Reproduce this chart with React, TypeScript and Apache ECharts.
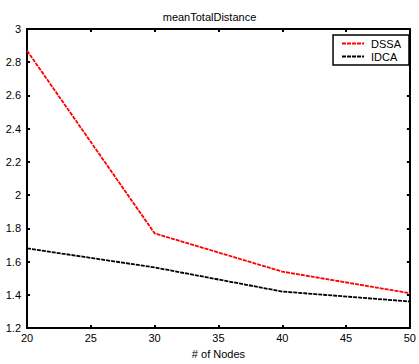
import React, { useEffect, useRef } from "react";
import * as echarts from "echarts";

const nodes = [20, 30, 40, 50];
const dssa = [2.87, 1.77, 1.54, 1.41];
const idca = [1.68, 1.565, 1.42, 1.36];

export default function App() {
  const ref = useRef<HTMLDivElement>(null);
  useEffect(() => {
    if (!ref.current) return;
    const chart = echarts.init(ref.current, null, { renderer: "svg" });
    const font = "Liberation Sans, Arial, sans-serif";
    const axisLine = { show: true, lineStyle: { color: "#000", width: 2 } };
    const tick = { show: true, inside: true, length: 3, lineStyle: { color: "#000", width: 2 } };
    chart.setOption({
      animation: false,
      backgroundColor: "#fff",
      title: {
        text: "meanTotalDistance",
        left: "center",
        top: 6,
        textStyle: { fontFamily: font, fontSize: 11, fontWeight: "normal", color: "#000" },
      },
      grid: { left: 27, right: 4, top: 29, bottom: 30 },
      legend: {
        right: 10,
        top: 35,
        orient: "vertical",
        itemWidth: 22,
        itemHeight: 8,
        itemGap: 2,
        padding: [3, 8, 3, 8],
        borderColor: "#000",
        borderWidth: 1.5,
        backgroundColor: "#fff",
        itemStyle: { opacity: 0 },
        textStyle: { fontFamily: font, fontSize: 11, color: "#000", padding: [0, 0, 0, 2] },
        data: ["DSSA", "IDCA"],
      },
      xAxis: [
        {
          type: "value",
          min: 20,
          max: 50,
          interval: 5,
          name: "# of Nodes",
          nameLocation: "middle",
          nameGap: 18,
          nameTextStyle: { fontFamily: font, fontSize: 11, color: "#000" },
          axisLine,
          axisTick: tick,
          axisLabel: { fontFamily: font, fontSize: 11, color: "#000", margin: 4 },
          splitLine: { show: false },
        },
        {
          type: "value",
          position: "top",
          min: 20,
          max: 50,
          interval: 5,
          axisLine,
          axisTick: tick,
          axisLabel: { show: false },
          splitLine: { show: false },
        },
      ],
      yAxis: [
        {
          type: "value",
          min: 1.2,
          max: 3,
          interval: 0.2,
          axisLine,
          axisTick: tick,
          axisLabel: { fontFamily: font, fontSize: 11, color: "#000", margin: 6 },
          splitLine: { show: false },
        },
        {
          type: "value",
          position: "right",
          min: 1.2,
          max: 3,
          interval: 0.2,
          axisLine,
          axisTick: tick,
          axisLabel: { show: false },
          splitLine: { show: false },
        },
      ],
      series: [
        {
          name: "DSSA",
          type: "line",
          data: nodes.map((x, i) => [x, dssa[i]]),
          symbol: "none",
          lineStyle: { color: "#ff0000", width: 1.8, type: [4, 1] },
          itemStyle: { color: "#ff0000" },
        },
        {
          name: "IDCA",
          type: "line",
          data: nodes.map((x, i) => [x, idca[i]]),
          symbol: "none",
          lineStyle: { color: "#000", width: 1.8, type: [4, 1] },
          itemStyle: { color: "#000" },
        },
      ],
    });
    return () => chart.dispose();
  }, []);
  return <div ref={ref} style={{ width: 419, height: 364, position: "absolute", left: 0, top: 0 }} />;
}
